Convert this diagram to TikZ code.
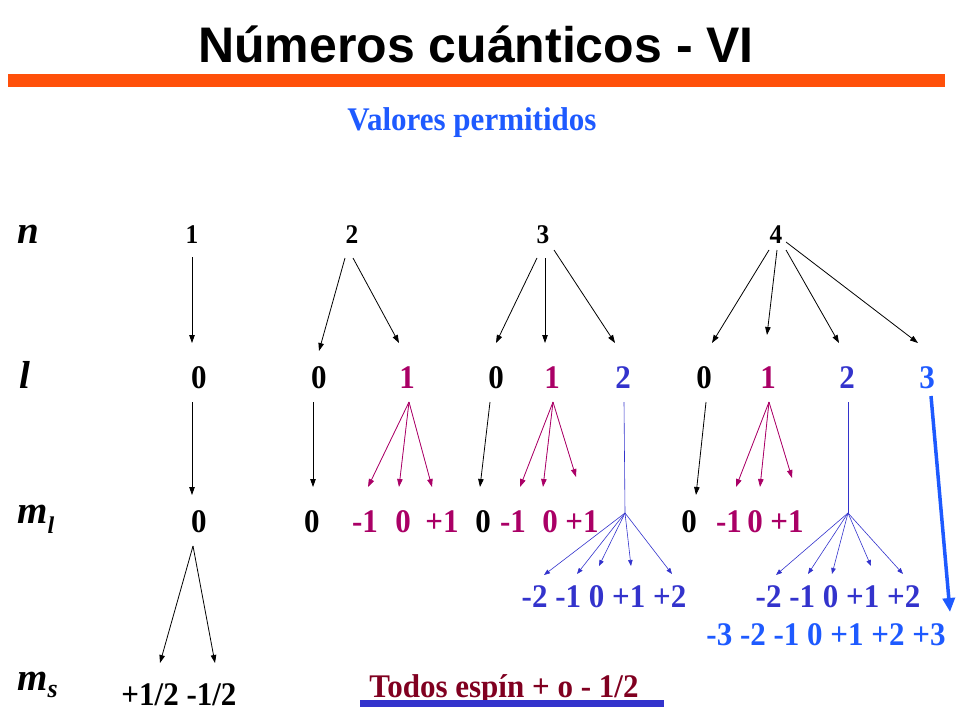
\documentclass[tikz,border=0pt]{standalone}
\usepackage{fontspec}
\setmainfont{Liberation Serif}
\newfontfamily\titlefont{Liberation Sans}
\newfontfamily\valfont[FakeStretch=0.94]{Liberation Serif}
\usetikzlibrary{arrows.meta,calc}
\definecolor{orangebar}{RGB}{255,80,10}
\definecolor{mag}{RGB}{170,0,102}
\definecolor{dblue}{RGB}{51,51,204}
\definecolor{bblue}{RGB}{30,90,255}
\definecolor{dred}{RGB}{128,0,32}
\tikzset{
  val/.style={font=\valfont\fontsize{33}{33}\selectfont\bfseries, inner sep=0pt, anchor=base},
  nval/.style={font=\valfont\fontsize{27}{27}\selectfont\bfseries, inner sep=0pt, anchor=base},
  lab/.style={font=\fontsize{39}{39}\selectfont\bfseries\itshape, inner sep=0pt, anchor=base west},
  arr/.style={line width=0.8pt, -{Triangle[length=8pt,width=5.5pt]}},
  marr/.style={arr, draw=mag, fill=mag},
  barr/.style={line width=0.6pt, draw=dblue, -{Triangle[length=6pt,width=4.5pt]}},
  bigarr/.style={line width=3.5pt, draw=bblue, -{Triangle[length=14pt,width=12pt]}},
}
\begin{document}
\begin{tikzpicture}[x=1pt,y=-1pt]
\useasboundingbox (0,0) rectangle (960,720);
% title
\node[anchor=base, inner sep=0pt, font=\titlefont\fontsize{50}{50}\selectfont\bfseries] (title) at (476,62) {Números cuánticos - VI};
\fill[orangebar] (8,74) rectangle (945,87);
\node[val, text=bblue] (valores) at (472,130) {Valores permitidos};
% row labels
\node[lab] (labn) at (17,243) {n};
\node[lab] (labl) at (19,388) {l};
\node[lab] (labml) at (17,523) {m\raisebox{-10pt}{\fontsize{24}{24}\selectfont l}};
\node[lab] (labms) at (17,690) {m\raisebox{-7pt}{\fontsize{26}{26}\selectfont s}};
% n row
\node[nval] (n1) at (192,243) {1};
\node[nval] (n2) at (352,243) {2};
\node[nval] (n3) at (543,243) {3};
\node[nval] (n4) at (776,243) {4};
% l row
\node[val] (la) at (199,388) {0};
\node[val] (lb) at (319,388) {0};
\node[val, text=mag] (lc) at (407,388) {1};
\node[val] (ld) at (496,388) {0};
\node[val, text=mag] (le) at (552,388) {1};
\node[val, text=dblue] (lf) at (623,388) {2};
\node[val] (lg) at (704,388) {0};
\node[val, text=mag] (lh) at (768,388) {1};
\node[val, text=dblue] (li) at (847,388) {2};
\node[val, text=bblue] (lj) at (927,388) {3};
% ml row
\node[val] (ma) at (199,532) {0};
\node[val] (mb) at (312,532) {0};
\node[val, text=mag] (mc1) at (365,532) {-1};
\node[val, text=mag] (mc2) at (403,532) {0};
\node[val, text=mag] (mc3) at (442,532) {+1};
\node[val] (md) at (483,532) {0};
\node[val, text=mag] (me1) at (513,532) {-1};
\node[val, text=mag] (me2) at (550,532) {0};
\node[val, text=mag] (me3) at (582,532) {+1};
\node[val] (mf) at (689,532) {0};
\node[val, text=mag] (mg1) at (729,532) {-1};
\node[val, text=mag] (mg2) at (755,532) {0};
\node[val, text=mag] (mg3) at (787,532) {+1};
% blue rows
\node[val, text=dblue] (pA) at (604,607) {-2 -1 0 +1 +2};
\node[val, text=dblue] (pB) at (838,607) {-2 -1 0 +1 +2};
\node[val, text=bblue] (pC) at (826,645) {-3 -2 -1 0 +1 +2 +3};
% ms row
\node[val] (ms) at (179,705) {+1/2 -1/2};
\node[val, text=dred] (todos) at (504,697) {Todos espín + o - 1/2};
\fill[dblue] (360,700) rectangle (664,707);
% n -> l
\draw[arr] ($(n1.base)+(0,14)$) -- ($(la.base)+(-7,-45)$);
\draw[arr] ($(n2.base)+(-7,15)$) -- ($(lb.base)+(0,-37)$);
\draw[arr] ($(n2.base)+(1,15)$) -- ($(lc.base)+(-8,-45)$);
\draw[arr] ($(n3.base)+(-6,15)$) -- ($(ld.base)+(0,-45)$);
\draw[arr] ($(n3.base)+(2,15)$) -- ($(le.base)+(-7,-45)$);
\draw[arr] ($(n3.base)+(11,7)$) -- ($(lf.base)+(-8,-45)$);
\draw[arr] ($(n4.base)+(-7,7)$) -- ($(lg.base)+(8,-45)$);
\draw[arr] ($(n4.base)+(1,7)$) -- ($(lh.base)+(-1,-53)$);
\draw[arr] ($(n4.base)+(10,7)$) -- ($(li.base)+(-8,-45)$);
\draw[arr] ($(n4.base)+(10,-1)$) -- ($(lj.base)+(-9,-45)$);
% l -> ml
\draw[arr] ($(la.base)+(-7,14)$) -- ($(ma.base)+(-7,-37)$);
\draw[arr] ($(lb.base)+(-6,14)$) -- ($(mb.base)+(1,-45)$);
\draw[marr] ($(lc.base)+(2,14)$) -- ($(mc1.base)+(3,-45)$);
\draw[marr] ($(lc.base)+(2,14)$) -- ($(mc2.base)+(-4,-45)$);
\draw[marr] ($(lc.base)+(2,14)$) -- ($(mc3.base)+(-10,-45)$);
\draw[arr] ($(ld.base)+(-6,14)$) -- ($(md.base)+(-3,-45)$);
\draw[marr] ($(le.base)+(1,14)$) -- ($(me1.base)+(7,-45)$);
\draw[marr] ($(le.base)+(1,14)$) -- ($(me2.base)+(-7,-45)$);
\draw[marr] ($(le.base)+(1,14)$) -- ($(me3.base)+(-6,-55)$);
\draw[arr] ($(lg.base)+(2,14)$) -- ($(mf.base)+(7,-37)$);
\draw[marr] ($(lh.base)+(1,14)$) -- ($(mg1.base)+(7,-45)$);
\draw[marr] ($(lh.base)+(1,14)$) -- ($(mg2.base)+(5,-45)$);
\draw[marr] ($(lh.base)+(1,14)$) -- ($(mg3.base)+(5,-54)$);
% blue fans
\coordinate (hubA) at (625,513);
\coordinate (hubB) at (848,513);
\draw[line width=0.6pt, dblue] ($(lf.base)+(1,14)$) -- (hubA);
\draw[line width=0.6pt, dblue] ($(li.base)+(1,14)$) -- (hubB);
\draw[barr] (hubA) -- ($(pA.base)+(-60,-32)$);
\draw[barr] (hubA) -- ($(pA.base)+(-27,-33)$);
\draw[barr] (hubA) -- ($(pA.base)+(-5,-41)$);
\draw[barr] (hubA) -- ($(pA.base)+(27,-41)$);
\draw[barr] (hubA) -- ($(pA.base)+(68,-33)$);
\draw[barr] (hubB) -- ($(pB.base)+(-62,-32)$);
\draw[barr] (hubB) -- ($(pB.base)+(-30,-33)$);
\draw[barr] (hubB) -- ($(pB.base)+(-6,-33)$);
\draw[barr] (hubB) -- ($(pB.base)+(33,-41)$);
\draw[barr] (hubB) -- ($(pB.base)+(65,-33)$);
% big blue arrow
\draw[bigarr] ($(lj.base)+(4,8)$) -- ($(pC.base)+(124,-33)$);
% ml -> ms
\draw[arr] ($(ma.base)+(-6,14)$) -- ($(ms.base)+(-19,-42)$);
\draw[arr] ($(ma.base)+(-6,14)$) -- ($(ms.base)+(36,-42)$);
\end{tikzpicture}
\end{document}
